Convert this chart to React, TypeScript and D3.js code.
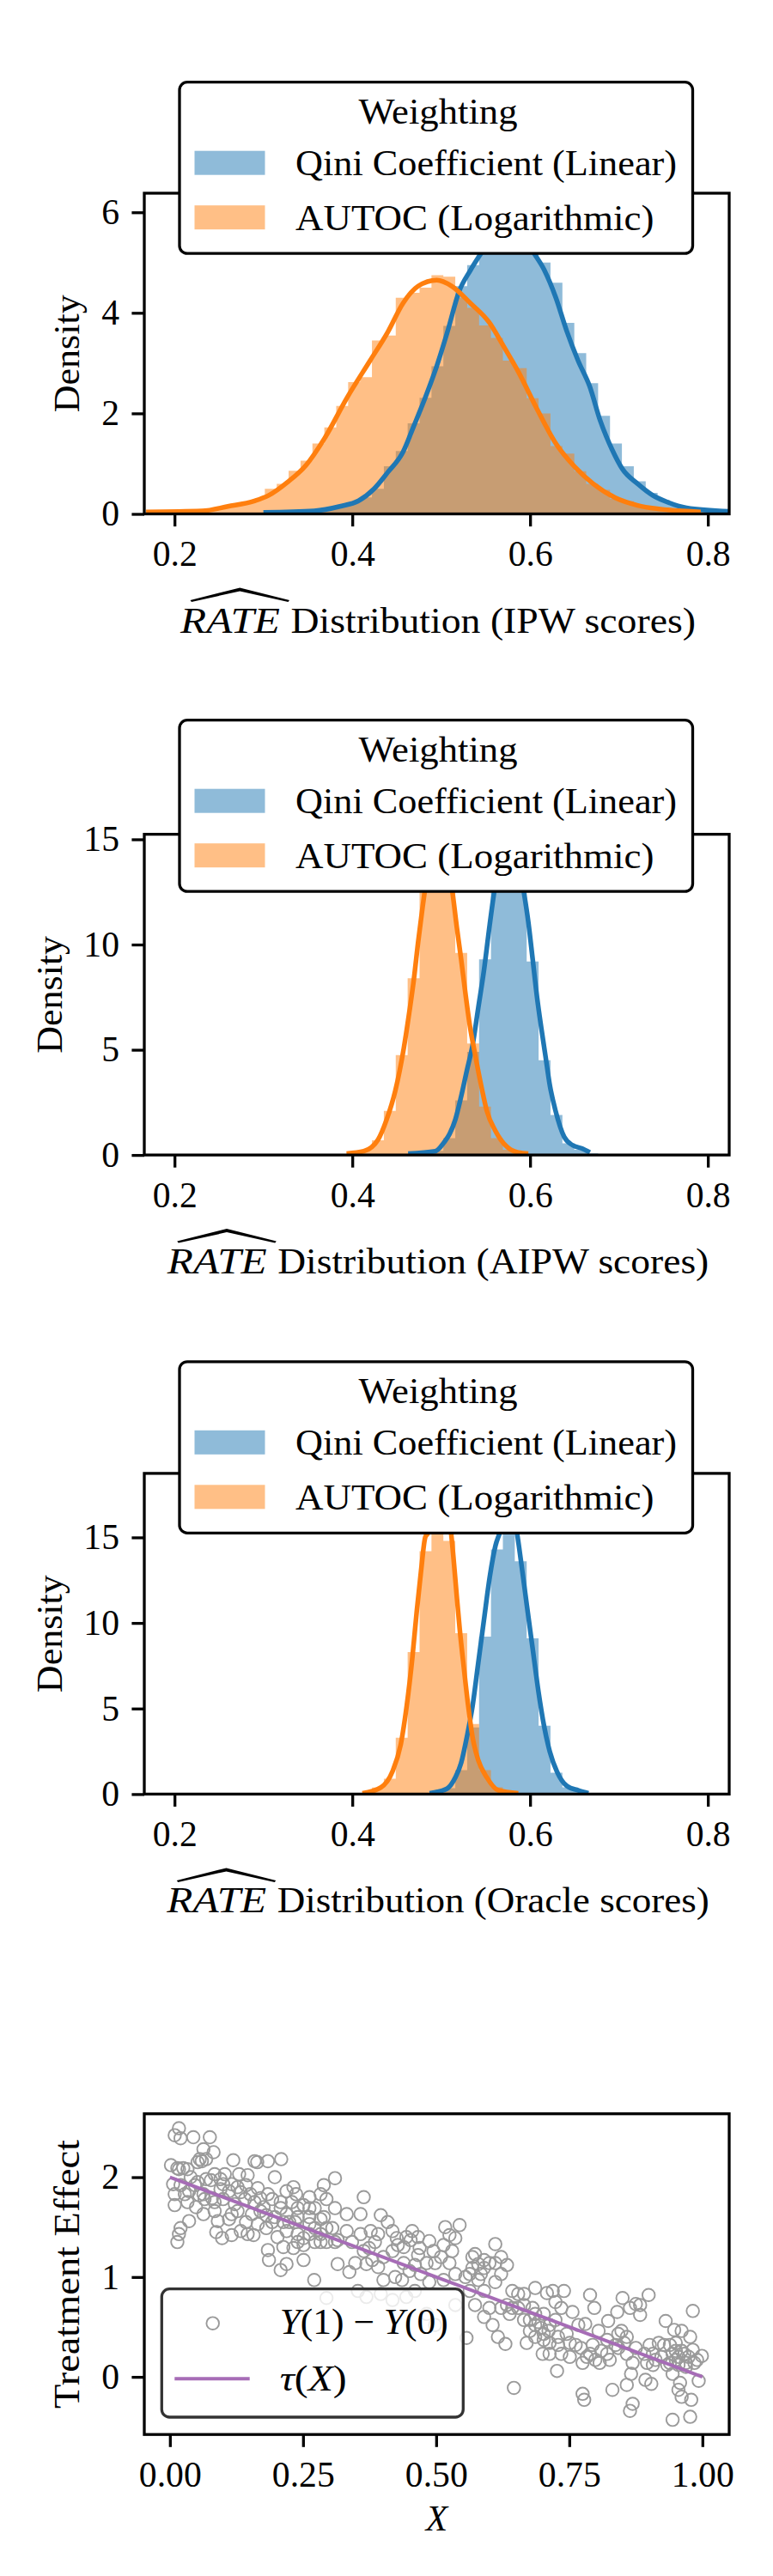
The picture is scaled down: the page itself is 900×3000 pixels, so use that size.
import React, { useEffect, useRef } from "react";
import * as d3 from "d3";

// ---- data ----

// shared histogram bins of the three RATE panels
const binStart = 0.1677;
const binWidth = 0.01339;

const seriesNames = ["Qini Coefficient (Linear)", "AUTOC (Logarithmic)"];
const scoreNames = ["IPW", "AIPW", "Oracle"];
const rateTicks = [0.2, 0.4, 0.6, 0.8];
const densityTicks = [
  [0, 2, 4, 6],
  [0, 5, 10, 15],
  [0, 5, 10, 15],
];

const ipwQiniHist = [
  0, 0, 0, 0, 0, 0, 0, 0, 0, 0,
  0.03, 0.04, 0.04, 0.05, 0.07, 0.1, 0.16, 0.22, 0.33, 0.5,
  0.95, 1.25, 1.8, 2.31, 2.94, 3.74, 4.53, 4.95, 5.35, 5.7,
  5.9, 5.75, 5.3, 5.0, 4.6, 3.8, 3.2, 2.6, 1.95, 1.4,
  0.95, 0.65, 0.42, 0.28, 0.17, 0.12, 0.08, 0.06, 0.05,
];
const ipwAutocHist = [
  0.03, 0.04, 0.04, 0.05, 0.06, 0.08, 0.12, 0.18, 0.24, 0.3,
  0.5, 0.6, 0.86, 1.06, 1.4, 1.72, 2.15, 2.62, 2.72, 3.45,
  3.55, 4.3, 4.4, 4.5, 4.75, 4.72, 4.3, 4.1, 3.75, 3.5,
  3.05, 2.9, 2.3, 2.0, 1.35, 1.2, 0.85, 0.6, 0.48, 0.3,
  0.25, 0.17, 0.12, 0.09, 0.07, 0.05, 0.04, 0.02, 0,
];
const aipwQiniHist = [
  0, 0, 0, 0, 0, 0, 0, 0, 0, 0,
  0, 0, 0, 0, 0, 0, 0, 0, 0, 0,
  0, 0, 0.03, 0.08, 0.2, 0.8, 2.6, 4.9, 9.3, 13.3,
  15.0, 13.5, 9.2, 4.5, 1.9, 0.55, 0.25, 0.08, 0, 0,
  0, 0, 0, 0, 0, 0, 0, 0, 0,
];
const aipwAutocHist = [
  0, 0, 0, 0, 0, 0, 0, 0, 0, 0,
  0, 0, 0, 0, 0, 0, 0.04, 0.1, 0.25, 0.7,
  2.1, 4.75, 8.4, 12.7, 15.0, 13.2, 9.6, 5.3, 2.3, 0.8,
  0.25, 0.06, 0.02, 0, 0, 0, 0, 0, 0, 0,
  0, 0, 0, 0, 0, 0, 0, 0, 0,
];
const oracleQiniHist = [
  0, 0, 0, 0, 0, 0, 0, 0, 0, 0,
  0, 0, 0, 0, 0, 0, 0, 0, 0, 0,
  0, 0, 0, 0, 0.05, 0.35, 1.4, 3.9, 9.2, 14.3,
  17.2, 13.6, 9.1, 4.0, 1.25, 0.4, 0.15, 0.03, 0, 0,
  0, 0, 0, 0, 0, 0, 0, 0, 0,
];
const oracleAutocHist = [
  0, 0, 0, 0, 0, 0, 0, 0, 0, 0,
  0, 0, 0, 0, 0, 0, 0, 0, 0.05, 0.39,
  0.9, 3.3, 8.3, 14.2, 17.3, 14.8, 9.4, 4.1, 1.4, 0.4,
  0.15, 0.03, 0, 0, 0, 0, 0, 0, 0, 0,
  0, 0, 0, 0, 0, 0, 0, 0, 0,
];

// kernel density curves [RATE, density]
const ipwQiniKde: [number, number][] = [
  [0.3, 0.03], [0.357, 0.06], [0.386, 0.15], [0.407, 0.26], [0.424, 0.49],
  [0.44, 0.83], [0.457, 1.23], [0.469, 1.74], [0.482, 2.31], [0.495, 2.94],
  [0.507, 3.62], [0.52, 4.42], [0.533, 4.85], [0.545, 5.19], [0.56, 5.6],
  [0.575, 5.85], [0.59, 5.65], [0.604, 5.2], [0.616, 4.85], [0.629, 4.3],
  [0.641, 3.65], [0.654, 3.05], [0.667, 2.54], [0.679, 1.85], [0.692, 1.29],
  [0.704, 0.89], [0.721, 0.6], [0.738, 0.37], [0.755, 0.23], [0.776, 0.12],
  [0.824, 0.05],
];
const ipwAutocKde: [number, number][] = [
  [0.168, 0.04], [0.231, 0.06], [0.26, 0.15], [0.29, 0.26], [0.306, 0.37],
  [0.327, 0.63], [0.348, 0.97], [0.369, 1.51], [0.394, 2.31], [0.42, 3.05],
  [0.44, 3.62], [0.457, 4.19], [0.474, 4.53], [0.495, 4.65], [0.512, 4.53],
  [0.533, 4.19], [0.554, 3.81], [0.57, 3.34], [0.587, 2.82], [0.608, 2.08],
  [0.629, 1.4], [0.65, 0.94], [0.671, 0.6], [0.696, 0.32], [0.721, 0.17],
  [0.755, 0.08], [0.792, 0.04],
];
const aipwQiniKde: [number, number][] = [
  [0.4628, 0.07], [0.4934, 0.18], [0.5031, 0.59], [0.5095, 1.0], [0.5159, 1.68],
  [0.5224, 2.77], [0.5288, 4.0], [0.5353, 5.22], [0.5417, 6.99], [0.5481, 8.77],
  [0.5546, 10.95], [0.5594, 12.44], [0.567, 14.3], [0.576, 15.0], [0.585, 14.3],
  [0.5932, 12.44], [0.598, 11.08], [0.6029, 9.31], [0.6077, 7.54], [0.6126, 6.04],
  [0.6174, 4.68], [0.6222, 3.32], [0.6287, 2.09], [0.6384, 0.86], [0.648, 0.46],
  [0.6577, 0.32], [0.6673, 0.12],
];
const aipwAutocKde: [number, number][] = [
  [0.3935, 0.07], [0.4129, 0.18], [0.429, 0.73], [0.4386, 1.68], [0.4483, 3.04],
  [0.458, 5.09], [0.4644, 6.86], [0.4693, 8.36], [0.4741, 10.13], [0.479, 11.76],
  [0.4812, 12.44], [0.489, 14.3], [0.497, 15.0], [0.505, 14.3], [0.5128, 12.44],
  [0.5176, 10.81], [0.5224, 9.31], [0.5273, 7.67], [0.5321, 6.18], [0.5386, 4.68],
  [0.5449, 3.32], [0.5514, 2.09], [0.5611, 1.14], [0.574, 0.39], [0.5868, 0.12],
  [0.598, 0.07],
];
const oracleQiniKde: [number, number][] = [
  [0.4869, 0.05], [0.5063, 0.31], [0.5159, 0.97], [0.5224, 1.81], [0.5288, 3.32],
  [0.5353, 5.15], [0.5417, 7.66], [0.5481, 10.17], [0.5546, 12.68], [0.5611, 14.52],
  [0.5659, 15.27], [0.5755, 17.0], [0.5852, 15.27], [0.59, 13.52], [0.5964, 11.01],
  [0.6029, 8.5], [0.6094, 6.0], [0.6157, 3.99], [0.6222, 2.48], [0.6303, 1.31],
  [0.6415, 0.47], [0.6544, 0.22], [0.6657, 0.05],
];
const oracleAutocKde: [number, number][] = [
  [0.4113, 0.05], [0.4322, 0.39], [0.4451, 1.31], [0.4548, 2.98], [0.4612, 5.15],
  [0.4676, 8.0], [0.4725, 10.67], [0.4773, 13.02], [0.4821, 15.02], [0.4853, 15.27],
  [0.491, 16.9], [0.498, 17.5], [0.505, 16.9], [0.5111, 15.27], [0.5143, 13.52],
  [0.5176, 11.51], [0.5208, 9.67], [0.5256, 7.33], [0.5304, 5.15], [0.5353, 3.32],
  [0.5417, 1.98], [0.5514, 0.97], [0.5643, 0.22], [0.5868, 0.05],
];

const qiniHists = [ipwQiniHist, aipwQiniHist, oracleQiniHist];
const autocHists = [ipwAutocHist, aipwAutocHist, oracleAutocHist];
const qiniKdes = [ipwQiniKde, aipwQiniKde, oracleQiniKde];
const autocKdes = [ipwAutocKde, aipwAutocKde, oracleAutocKde];

// treatment effect sample: [X, Y(1) - Y(0)]
const effectPoints: [number, number][] = [
  [0.017, 2.49], [0.009, 2.42], [0.02, 2.39], [0.044, 2.4], [0.075, 2.4], [0.063, 2.28],
  [0.082, 2.25], [0.056, 2.18], [0.068, 2.18], [0.119, 2.17], [0.159, 2.16], [0.164, 2.15],
  [0.184, 2.16], [0.209, 2.18], [0.002, 2.12], [0.014, 2.09], [0.025, 2.09], [0.033, 2.08],
  [0.052, 2.15], [0.06, 2.16], [0.197, 2.0], [0.31, 1.99], [0.146, 2.02], [0.13, 2.03],
  [0.103, 2.03], [0.084, 2.03], [0.068, 1.98], [0.006, 1.93], [0.02, 1.92], [0.047, 1.92],
  [0.1, 1.93], [0.116, 1.93], [0.127, 1.9], [0.232, 1.9], [0.289, 1.92], [0.219, 1.86],
  [0.237, 1.83], [0.262, 1.8], [0.283, 1.83], [0.294, 1.78], [0.095, 1.88], [0.133, 1.85],
  [0.151, 1.83], [0.17, 1.79], [0.192, 1.78], [0.208, 1.75], [0.009, 1.83], [0.028, 1.83],
  [0.055, 1.82], [0.065, 1.78], [0.079, 1.79], [0.009, 1.72], [0.033, 1.75], [0.049, 1.7],
  [0.1, 1.78], [0.122, 1.73], [0.141, 1.78], [0.159, 1.75], [0.176, 1.7], [0.208, 1.69],
  [0.229, 1.75], [0.251, 1.72], [0.272, 1.69], [0.31, 1.69], [0.063, 1.63], [0.084, 1.66],
  [0.127, 1.66], [0.154, 1.63], [0.181, 1.62], [0.219, 1.63], [0.24, 1.6], [0.262, 1.6],
  [0.289, 1.6], [0.036, 1.56], [0.09, 1.56], [0.111, 1.58], [0.143, 1.55], [0.165, 1.53],
  [0.192, 1.55], [0.213, 1.55], [0.235, 1.55], [0.262, 1.53], [0.02, 1.49], [0.017, 1.43],
  [0.087, 1.45], [0.098, 1.39], [0.116, 1.42], [0.133, 1.46], [0.146, 1.43], [0.157, 1.42],
  [0.181, 1.49], [0.24, 1.43], [0.262, 1.43], [0.283, 1.43], [0.305, 1.49], [0.014, 1.35],
  [0.251, 1.32], [0.272, 1.35], [0.294, 1.35], [0.315, 1.37], [0.184, 1.27], [0.213, 1.3],
  [0.232, 1.29], [0.186, 1.17], [0.219, 1.13], [0.208, 1.07], [0.251, 1.17], [0.315, 1.13],
  [0.271, 0.97], [0.294, 0.79],
  [0.017, 2.08], [0.039, 2.0], [0.052, 1.95], [0.077, 1.97], [0.095, 1.98], [0.111, 1.86],
  [0.143, 1.92], [0.165, 1.89], [0.184, 1.83], [0.063, 1.83], [0.036, 1.86], [0.084, 1.75],
  [0.116, 1.63], [0.17, 1.66], [0.197, 1.6], [0.224, 1.55], [0.24, 1.69], [0.283, 1.58],
  [0.262, 1.69], [0.294, 1.49], [0.272, 1.49], [0.251, 1.39], [0.283, 1.35], [0.24, 1.35],
  [0.31, 1.35], [0.219, 1.46], [0.202, 1.4],
  [0.364, 1.8], [0.332, 1.63], [0.358, 1.63], [0.396, 1.62], [0.409, 1.55], [0.332, 1.46],
  [0.358, 1.43], [0.377, 1.46], [0.391, 1.43], [0.418, 1.46], [0.426, 1.39], [0.455, 1.46],
  [0.452, 1.37], [0.487, 1.36], [0.517, 1.5], [0.544, 1.52], [0.525, 1.42], [0.536, 1.39],
  [0.514, 1.32], [0.495, 1.26], [0.469, 1.29], [0.439, 1.3], [0.466, 1.22], [0.46, 1.12],
  [0.439, 1.14], [0.418, 1.26], [0.401, 1.2], [0.38, 1.17], [0.364, 1.26], [0.348, 1.14],
  [0.337, 1.05], [0.369, 1.13], [0.391, 1.1], [0.401, 0.97], [0.423, 1.0], [0.436, 0.97],
  [0.45, 1.06], [0.471, 1.03], [0.487, 0.95], [0.509, 1.2], [0.53, 1.26], [0.555, 1.0],
  [0.573, 1.23], [0.59, 1.17], [0.611, 1.33], [0.633, 1.12], [0.622, 1.03], [0.611, 0.95],
  [0.568, 1.09], [0.579, 0.97], [0.59, 0.86], [0.563, 0.86], [0.573, 0.72], [0.6, 0.69],
  [0.59, 0.6], [0.622, 0.69], [0.643, 0.86], [0.665, 0.83], [0.686, 0.89], [0.633, 0.72],
  [0.654, 0.69], [0.676, 0.57], [0.692, 0.55], [0.686, 0.4], [0.697, 0.49], [0.67, 0.34],
  [0.638, 0.63], [0.606, 0.52], [0.616, 0.4], [0.63, 0.33], [0.557, 0.39], [0.646, -0.11],
  [0.353, 0.86], [0.369, 0.8], [0.396, 0.83], [0.418, 0.77], [0.444, 0.8], [0.46, 0.86],
  [0.482, 0.63], [0.536, 0.72], [0.498, 0.52],
  [0.568, 1.2], [0.579, 1.13], [0.59, 1.09], [0.6, 1.14], [0.563, 1.03], [0.584, 1.03],
  [0.611, 1.14], [0.622, 1.2], [0.654, 0.83], [0.665, 0.72], [0.681, 0.69], [0.686, 0.63],
  [0.665, 0.57], [0.643, 0.69], [0.686, 0.52], [0.676, 0.46], [0.444, 1.4], [0.428, 1.32],
  [0.466, 1.4], [0.385, 1.35], [0.374, 1.29], [0.342, 1.35], [0.482, 1.14], [0.498, 1.14],
  [0.525, 1.14], [0.536, 1.03], [0.514, 0.97],
  [0.708, 0.84], [0.719, 0.86], [0.74, 0.86], [0.724, 0.75], [0.735, 0.69], [0.756, 0.65],
  [0.789, 0.82], [0.797, 0.69], [0.823, 0.56], [0.84, 0.65], [0.85, 0.79], [0.864, 0.69],
  [0.875, 0.73], [0.883, 0.72], [0.899, 0.82], [0.883, 0.62], [0.931, 0.56], [0.947, 0.47],
  [0.961, 0.46], [0.982, 0.66], [0.977, 0.4], [0.918, 0.34], [0.939, 0.32], [0.95, 0.26],
  [0.966, 0.23], [0.982, 0.27], [0.999, 0.21], [0.99, 0.17], [0.95, 0.17], [0.934, 0.12],
  [0.907, 0.12], [0.896, 0.14], [0.875, 0.29], [0.858, 0.23], [0.842, 0.43], [0.853, 0.34],
  [0.821, 0.37], [0.805, 0.46], [0.794, 0.32], [0.81, 0.26], [0.783, 0.2], [0.775, 0.14],
  [0.762, 0.32], [0.751, 0.2], [0.729, 0.32], [0.713, 0.34], [0.702, 0.37], [0.711, 0.46],
  [0.7, 0.23], [0.727, 0.06], [0.807, 0.14], [0.826, 0.17], [0.869, 0.14], [0.907, 0.23],
  [0.923, 0.2], [0.955, 0.12], [0.969, 0.14], [0.944, 0.03], [0.958, -0.06], [0.866, 0.03],
  [0.893, -0.03], [0.904, -0.07], [0.993, -0.04], [0.831, -0.13], [0.858, -0.08], [0.775, -0.17],
  [0.778, -0.23], [0.869, -0.27], [0.864, -0.34], [0.955, -0.13], [0.961, -0.2], [0.979, -0.23],
  [0.944, -0.43], [0.977, -0.4], [0.745, 0.43], [0.767, 0.52], [0.78, 0.53], [0.842, 0.29],
  [0.901, 0.32],
  [0.702, 0.63], [0.713, 0.52], [0.724, 0.57], [0.702, 0.43], [0.729, 0.4], [0.713, 0.23],
  [0.735, 0.23], [0.751, 0.34], [0.772, 0.29], [0.789, 0.23], [0.799, 0.17], [0.821, 0.23],
  [0.837, 0.32], [0.928, 0.32], [0.944, 0.23], [0.961, 0.26], [0.974, 0.2], [0.955, 0.2],
  [0.939, 0.14], [0.969, 0.1], [0.985, 0.14], [0.912, 0.17], [0.95, 0.34], [0.891, 0.23],
  [0.848, 0.46], [0.858, 0.4],
];
// true effect tau(X) at both ends of the X range
const tauLine: [number, number][] = [
  [0, 2],
  [1, 0],
];
const effectXTicks = [0, 0.25, 0.5, 0.75, 1];
const effectYTicks = [0, 1, 2];

// ---- layout / style ----
const W = 900;
const H = 3000;
const FONT = "'Liberation Serif', 'Times New Roman', serif";
const FS = 41.67;
const LW = 3.3;
const TICK = 14.6;
const axLeft = 168;
const axRight = 849;
const axHeight = 373.5;
const seriesColors = ["#1f77b4", "#ff7f0e"];

const panelLayout = [
  { top: 225, legendBottom: 295.2, yMax: 6.38, yLabelX: 91.5, restWidth: 471.5 },
  { top: 971.6, legendBottom: 1038.2, yMax: 15.24, yLabelX: 72, restWidth: 502 },
  { top: 1715.9, legendBottom: 1785.3, yMax: 18.74, yLabelX: 72, restWidth: 503 },
];

const styleAxis = (g: any) => {
  g.select(".domain").remove();
  g.attr("font-family", FONT).attr("font-size", FS);
  g.selectAll(".tick line").attr("stroke", "#000").attr("stroke-width", LW);
  g.selectAll(".tick text").attr("fill", "#000");
};

const drawRatePanel = (svg: any, p: any, i: number) => {
  const bottom = p.top + axHeight;
  const x = d3.scaleLinear().domain([0.166, 0.824]).range([axLeft, axRight]);
  const y = d3.scaleLinear().domain([0, p.yMax]).range([bottom, p.top]);
  const g = svg.append("g");

  const clipId = `rate-clip-${i}`;
  g.append("clipPath")
    .attr("id", clipId)
    .append("rect")
    .attr("x", axLeft)
    .attr("y", p.top)
    .attr("width", axRight - axLeft)
    .attr("height", axHeight);
  const plot = g.append("g").attr("clip-path", `url(#${clipId})`);

  // histograms (density), shared bins
  const histArea = d3
    .area<number>()
    .x((_, k) => x(binStart + k * binWidth))
    .y0(y(0))
    .y1((h) => y(h))
    .curve(d3.curveStepAfter);
  [qiniHists[i], autocHists[i]].forEach((h, s) => {
    plot
      .append("path")
      .datum([...h, h[h.length - 1]])
      .attr("d", histArea)
      .attr("fill", seriesColors[s])
      .attr("fill-opacity", 0.5);
  });

  // KDE curves
  const kdeLine = d3
    .line<[number, number]>()
    .x((d) => x(d[0]))
    .y((d) => y(d[1]))
    .curve(d3.curveMonotoneX);
  [qiniKdes[i], autocKdes[i]].forEach((k, s) => {
    plot
      .append("path")
      .datum(k)
      .attr("d", kdeLine)
      .attr("fill", "none")
      .attr("stroke", seriesColors[s])
      .attr("stroke-width", 5.5)
      .attr("stroke-linejoin", "round");
  });

  // frame
  g.append("rect")
    .attr("x", axLeft)
    .attr("y", p.top)
    .attr("width", axRight - axLeft)
    .attr("height", axHeight)
    .attr("fill", "none")
    .attr("stroke", "#000")
    .attr("stroke-width", LW);

  // axes
  const xAxis = g
    .append("g")
    .attr("transform", `translate(0,${bottom})`)
    .call(
      d3
        .axisBottom(x)
        .tickValues(rateTicks)
        .tickSize(TICK)
        .tickSizeOuter(0)
        .tickFormat(d3.format(".1f") as any)
    );
  styleAxis(xAxis);
  xAxis.selectAll(".tick text").attr("y", 60.5).attr("dy", 0);

  const yAxis = g
    .append("g")
    .attr("transform", `translate(${axLeft},0)`)
    .call(
      d3
        .axisLeft(y)
        .tickValues(densityTicks[i])
        .tickSize(TICK)
        .tickPadding(14.4)
        .tickSizeOuter(0)
        .tickFormat(d3.format("d") as any)
    );
  styleAxis(yAxis);

  // y label
  g.append("text")
    .attr("transform", `translate(${p.yLabelX},${p.top + axHeight / 2}) rotate(-90)`)
    .attr("text-anchor", "middle")
    .attr("font-family", FONT)
    .attr("font-size", FS)
    .attr("textLength", 137)
    .attr("lengthAdjust", "spacingAndGlyphs")
    .text("Density");

  // x label: widehat RATE + rest
  const rateW = 116;
  const gap = 12.5;
  const start = 510 - (rateW + gap + p.restWidth) / 2;
  const base = bottom + 138;
  g.append("text")
    .attr("x", start)
    .attr("y", base)
    .attr("font-family", FONT)
    .attr("font-size", FS)
    .attr("font-style", "italic")
    .attr("textLength", rateW)
    .attr("lengthAdjust", "spacingAndGlyphs")
    .text("RATE");
  g.append("text")
    .attr("x", start + rateW + gap)
    .attr("y", base)
    .attr("font-family", FONT)
    .attr("font-size", FS)
    .attr("textLength", p.restWidth)
    .attr("lengthAdjust", "spacingAndGlyphs")
    .text(`Distribution (${scoreNames[i]} scores)`);
  const hx0 = start + 11.5;
  const hx1 = start + 127;
  const hm = (hx0 + hx1) / 2;
  const hEnd = base - 37.5;
  const hPeak = base - 52;
  g.append("path")
    .attr(
      "d",
      `M${hx0},${hEnd} L${hm},${hPeak} L${hx1},${hEnd} L${hx1 - 1.5},${hEnd + 2} L${hm},${hPeak + 4} L${hx0 + 1.5},${hEnd + 2} Z`
    )
    .attr("fill", "#000");

  // legend
  const lb = p.legendBottom;
  const lg = g.append("g");
  lg.append("rect")
    .attr("x", 209)
    .attr("y", lb - 199.5)
    .attr("width", 597.5)
    .attr("height", 199.5)
    .attr("rx", 9)
    .attr("fill", "#fff")
    .attr("stroke", "#000")
    .attr("stroke-width", LW);
  lg.append("text")
    .attr("x", 510)
    .attr("y", lb - 151.5)
    .attr("text-anchor", "middle")
    .attr("font-family", FONT)
    .attr("font-size", FS)
    .attr("textLength", 185)
    .attr("lengthAdjust", "spacingAndGlyphs")
    .text("Weighting");
  const rowCenters = [lb - 105.5, lb - 42];
  const textWidths = [444, 417.5];
  seriesNames.forEach((name, s) => {
    lg.append("rect")
      .attr("x", 226.5)
      .attr("y", rowCenters[s] - 14)
      .attr("width", 82)
      .attr("height", 28)
      .attr("fill", seriesColors[s])
      .attr("fill-opacity", 0.5);
    lg.append("text")
      .attr("x", 344)
      .attr("y", rowCenters[s] + 14.5)
      .attr("font-family", FONT)
      .attr("font-size", FS)
      .attr("textLength", textWidths[s])
      .attr("lengthAdjust", "spacingAndGlyphs")
      .text(name);
  });
};

const drawEffectPanel = (svg: any) => {
  const top = 2461.7;
  const bottom = top + axHeight;
  const x = d3.scaleLinear().domain([-0.0481, 1.0503]).range([axLeft, axRight]);
  const y = d3.scaleLinear().domain([-0.577, 2.635]).range([bottom, top]);
  const g = svg.append("g");
  const pointColor = "#9a9a9a";
  const tauColor = "#a66cb6";

  g.selectAll(".pt")
    .data(effectPoints)
    .join("circle")
    .attr("class", "pt")
    .attr("cx", (d: [number, number]) => x(d[0]))
    .attr("cy", (d: [number, number]) => y(d[1]))
    .attr("r", 7.3)
    .attr("fill", "none")
    .attr("stroke", pointColor)
    .attr("stroke-width", 1.9);

  const line = d3
    .line<[number, number]>()
    .x((d) => x(d[0]))
    .y((d) => y(d[1]));
  g.append("path")
    .datum(tauLine)
    .attr("d", line)
    .attr("fill", "none")
    .attr("stroke", tauColor)
    .attr("stroke-width", 4);

  g.append("rect")
    .attr("x", axLeft)
    .attr("y", top)
    .attr("width", axRight - axLeft)
    .attr("height", axHeight)
    .attr("fill", "none")
    .attr("stroke", "#000")
    .attr("stroke-width", LW);

  const xAxis = g
    .append("g")
    .attr("transform", `translate(0,${bottom})`)
    .call(
      d3
        .axisBottom(x)
        .tickValues(effectXTicks)
        .tickSize(TICK)
        .tickSizeOuter(0)
        .tickFormat(d3.format(".2f") as any)
    );
  styleAxis(xAxis);
  xAxis.selectAll(".tick text").attr("y", 61).attr("dy", 0);

  const yAxis = g
    .append("g")
    .attr("transform", `translate(${axLeft},0)`)
    .call(
      d3
        .axisLeft(y)
        .tickValues(effectYTicks)
        .tickSize(TICK)
        .tickPadding(14.4)
        .tickSizeOuter(0)
        .tickFormat(d3.format("d") as any)
    );
  styleAxis(yAxis);

  g.append("text")
    .attr("transform", `translate(91.5,${top + axHeight / 2}) rotate(-90)`)
    .attr("text-anchor", "middle")
    .attr("font-family", FONT)
    .attr("font-size", FS)
    .attr("textLength", 313)
    .attr("lengthAdjust", "spacingAndGlyphs")
    .text("Treatment Effect");

  g.append("text")
    .attr("x", (axLeft + axRight) / 2)
    .attr("y", bottom + 112)
    .attr("text-anchor", "middle")
    .attr("font-family", FONT)
    .attr("font-size", FS)
    .attr("font-style", "italic")
    .text("X");

  // legend
  const lg = g.append("g");
  lg.append("rect")
    .attr("x", 188.3)
    .attr("y", 2665.7)
    .attr("width", 351)
    .attr("height", 149.3)
    .attr("rx", 9)
    .attr("fill", "#fff")
    .attr("fill-opacity", 0.8)
    .attr("stroke", "#333")
    .attr("stroke-width", LW);
  lg.append("circle")
    .attr("cx", 247.7)
    .attr("cy", 2705.7)
    .attr("r", 7.3)
    .attr("fill", "none")
    .attr("stroke", pointColor)
    .attr("stroke-width", 1.9);
  lg.append("line")
    .attr("x1", 203.3)
    .attr("x2", 290.7)
    .attr("y1", 2770.3)
    .attr("y2", 2770.3)
    .attr("stroke", tauColor)
    .attr("stroke-width", 4);

  const t1 = lg
    .append("text")
    .attr("x", 325.7)
    .attr("y", 2718)
    .attr("font-family", FONT)
    .attr("font-size", FS)
    .attr("textLength", 196)
    .attr("lengthAdjust", "spacingAndGlyphs");
  t1.append("tspan").attr("font-style", "italic").text("Y");
  t1.append("tspan").text("(1) \u2212 ");
  t1.append("tspan").attr("font-style", "italic").text("Y");
  t1.append("tspan").text("(0)");

  const t2 = lg
    .append("text")
    .attr("x", 325.7)
    .attr("y", 2784)
    .attr("font-family", FONT)
    .attr("font-size", FS)
    .attr("textLength", 78)
    .attr("lengthAdjust", "spacingAndGlyphs");
  t2.append("tspan").attr("font-style", "italic").text("\u03c4");
  t2.append("tspan").text("(");
  t2.append("tspan").attr("font-style", "italic").text("X");
  t2.append("tspan").text(")");
};

const App: React.FC = () => {
  const svgRef = useRef<SVGSVGElement>(null);

  useEffect(() => {
    if (!svgRef.current) return;
    const svg = d3.select(svgRef.current);
    svg.selectAll("*").remove();
    svg.append("rect").attr("width", W).attr("height", H).attr("fill", "#fff");

    panelLayout.forEach((p, i) => drawRatePanel(svg, p, i));
    drawEffectPanel(svg);
  }, []);

  return (
    <svg
      ref={svgRef}
      width={W}
      height={H}
      viewBox={`0 0 ${W} ${H}`}
      style={{ position: "absolute", left: 0, top: 0, display: "block" }}
    ></svg>
  );
};

export default App;
